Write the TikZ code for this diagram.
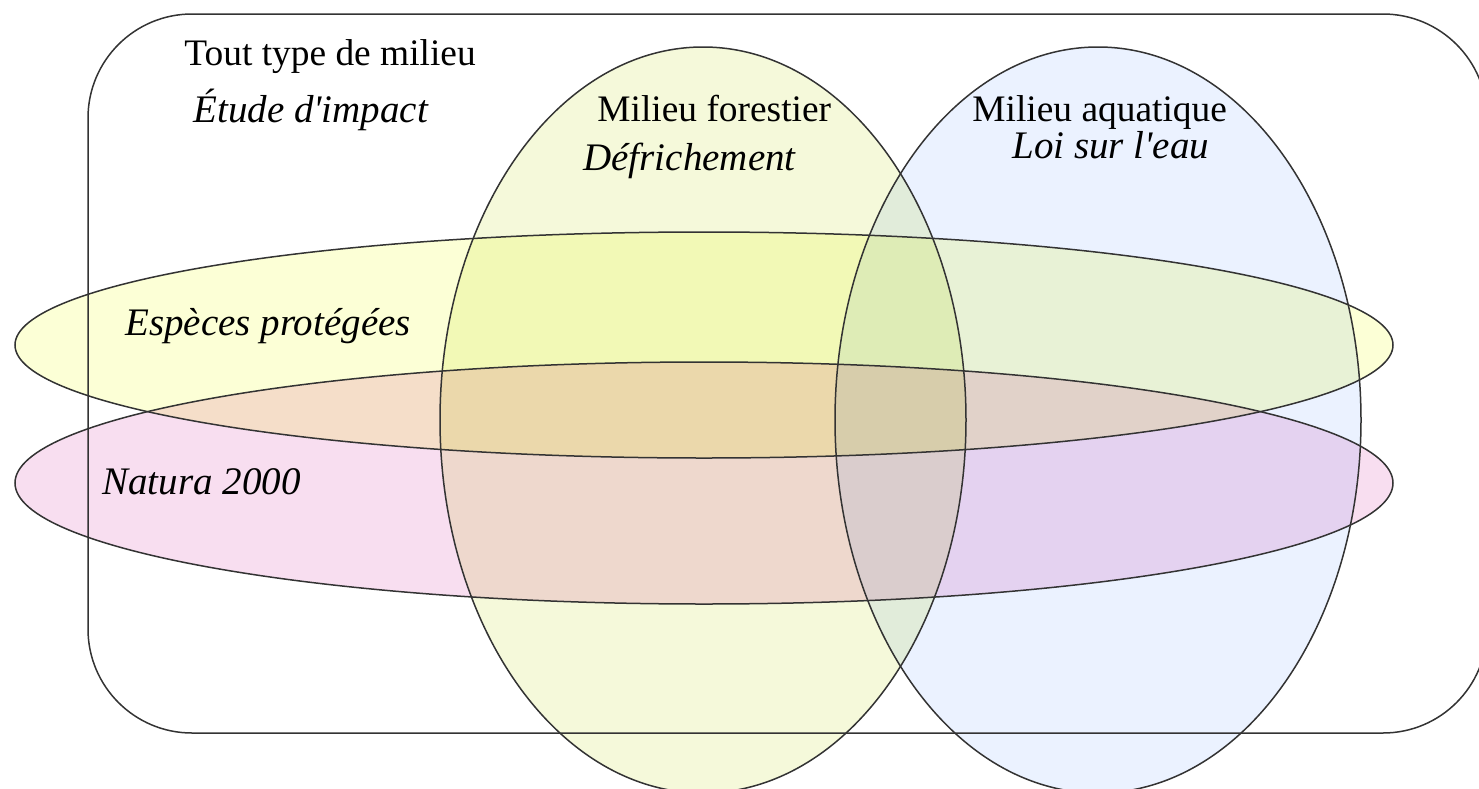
\documentclass[tikz,border=0pt]{standalone}
\usepackage{fontspec}
\setmainfont{Liberation Serif}
\usepackage{tikz}

\definecolor{foret}{HTML}{F5F9DA}
\definecolor{eau}{HTML}{EBF2FF}
\definecolor{especes}{HTML}{FCFFD6}
\definecolor{natura}{HTML}{F8DEF0}
\definecolor{trait}{HTML}{333333}

\tikzset{
  milieu/.style={anchor=base west, inner sep=0pt, font=\fontsize{18.7}{22}\selectfont},
  procedure/.style={anchor=base west, inner sep=0pt, font=\fontsize{19.5}{23}\selectfont\itshape}
}

\begin{document}
\begin{tikzpicture}[x=0.5pt,y=-0.5pt]
\useasboundingbox (0,0) rectangle (1479,788);
\clip (0,0) rectangle (1479,788);

\coordinate (foret) at (703,420);
\coordinate (eau) at (1098,420);
\coordinate (especes) at (704,345);
\coordinate (natura) at (704,483);

% remplissages
\begin{scope}[blend mode=multiply]
\foreach \c/\rx/\ry in {foret/263/373, eau/263/373, especes/689/113, natura/689/121}
  \fill[\c] (\c) ellipse [x radius=\rx, y radius=\ry];
\end{scope}

% contours
\draw[trait, line width=0.75pt, rounded corners=52pt] (88,14) rectangle (1487,733);
\foreach \c/\rx/\ry in {foret/263/373, eau/263/373, especes/689/113, natura/689/121}
  \draw[trait, line width=0.75pt] (\c) ellipse [x radius=\rx, y radius=\ry];

\node[milieu] (tout) at (184,65) {Tout type de milieu};
\node[procedure] (impact) at (193,122) {Étude d\textquotesingle impact};
\node[milieu] (forestier) at (597,121) {Milieu forestier};
\node[procedure] (defrich) at (583,170) {Défrichement};
\node[milieu] (aquatique) at (972,121) {Milieu aquatique};
\node[procedure] (loieau) at (1012,158) {Loi sur l\textquotesingle eau};
\node[procedure] (protegees) at (125,335) {Espèces protégées};
\node[procedure] (natura2000) at (102,494) {Natura 2000};

\end{tikzpicture}
\end{document}
